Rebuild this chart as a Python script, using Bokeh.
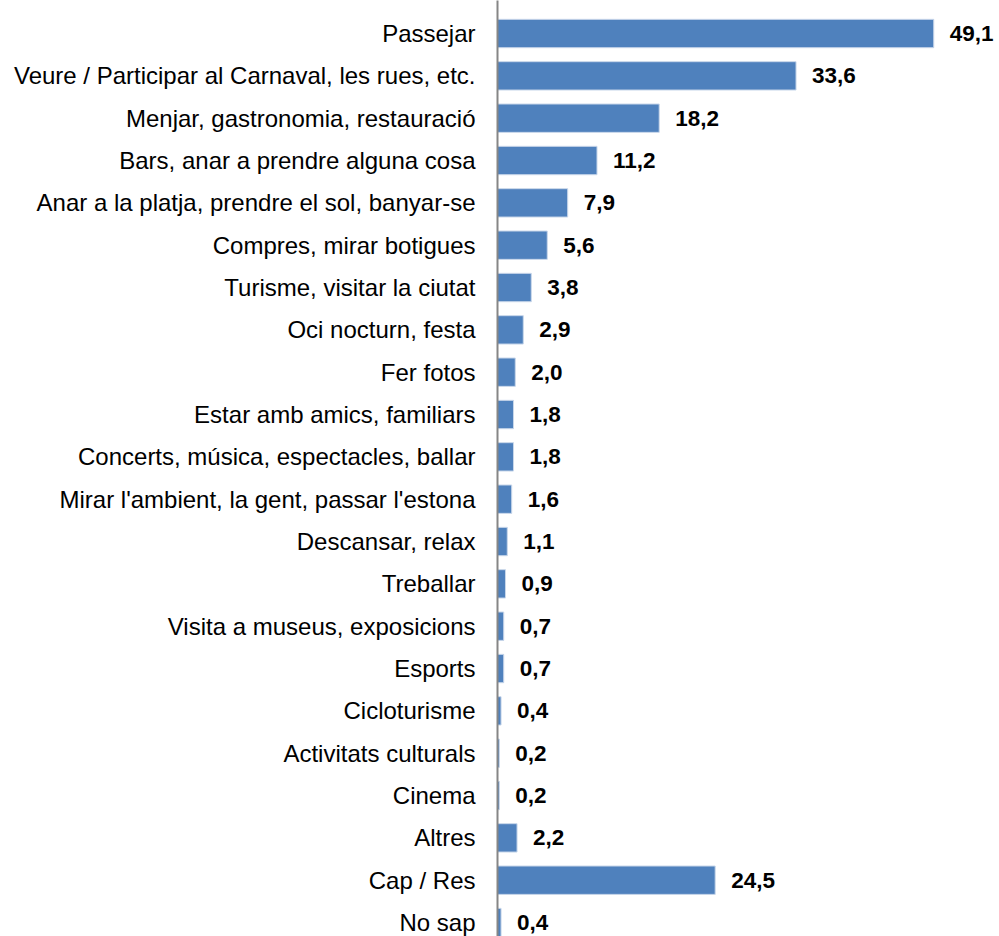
from bokeh.plotting import figure
from bokeh.models import Range1d, FixedTicker, ColumnDataSource
from bokeh.core.properties import value
from bokeh.embed import file_html
from bokeh.resources import INLINE

categories = [
    "Passejar",
    "Veure / Participar al Carnaval, les rues, etc.",
    "Menjar, gastronomia, restauració",
    "Bars, anar a prendre alguna cosa",
    "Anar a la platja, prendre el sol, banyar-se",
    "Compres, mirar botigues",
    "Turisme, visitar la ciutat",
    "Oci nocturn, festa",
    "Fer fotos",
    "Estar amb amics, familiars",
    "Concerts, música, espectacles, ballar",
    "Mirar l'ambient, la gent, passar l'estona",
    "Descansar, relax",
    "Treballar",
    "Visita a museus, exposicions",
    "Esports",
    "Cicloturisme",
    "Activitats culturals",
    "Cinema",
    "Altres",
    "Cap / Res",
    "No sap",
]
values = [49.1, 33.6, 18.2, 11.2, 7.9, 5.6, 3.8, 2.9, 2.0, 1.8, 1.8, 1.6,
          1.1, 0.9, 0.7, 0.7, 0.4, 0.2, 0.2, 2.2, 24.5, 0.4]

positions = list(range(len(categories)))
value_labels = [f"{v:.1f}".replace(".", ",") for v in values]

src = ColumnDataSource(dict(y=positions, v=values, lab=value_labels))

p = figure(width=999, height=936, output_backend="svg", toolbar_location=None,
           x_range=Range1d(0, 56.5), y_range=Range1d(21.33, -0.78),
           min_border_left=497, min_border_right=0, min_border_top=0,
           min_border_bottom=0)
p.outline_line_color = None
p.grid.visible = False
p.xaxis.visible = False

p.hbar(y="y", left=0, right="v", height=0.67, source=src,
       fill_color="#4F81BD", line_color="#C9D7EA", line_width=1)

p.text(x="v", y="y", text="lab", source=src, x_offset=16,
       text_baseline="middle", text_align="left",
       text_font=value("Liberation Sans"), text_font_style="bold",
       text_font_size="22.5px", text_color="#000000")

yax = p.yaxis[0]
yax.ticker = FixedTicker(ticks=positions)
yax.major_label_overrides = {i: c for i, c in enumerate(categories)}
yax.major_tick_line_color = None
yax.minor_tick_line_color = None
yax.axis_line_color = "#868686"
yax.axis_line_width = 2
yax.major_label_standoff = 16
yax.major_label_text_font = "Liberation Sans"
yax.major_label_text_font_size = "24px"
yax.major_label_text_color = "#000000"

open("out.html", "w").write(file_html(p, INLINE))
